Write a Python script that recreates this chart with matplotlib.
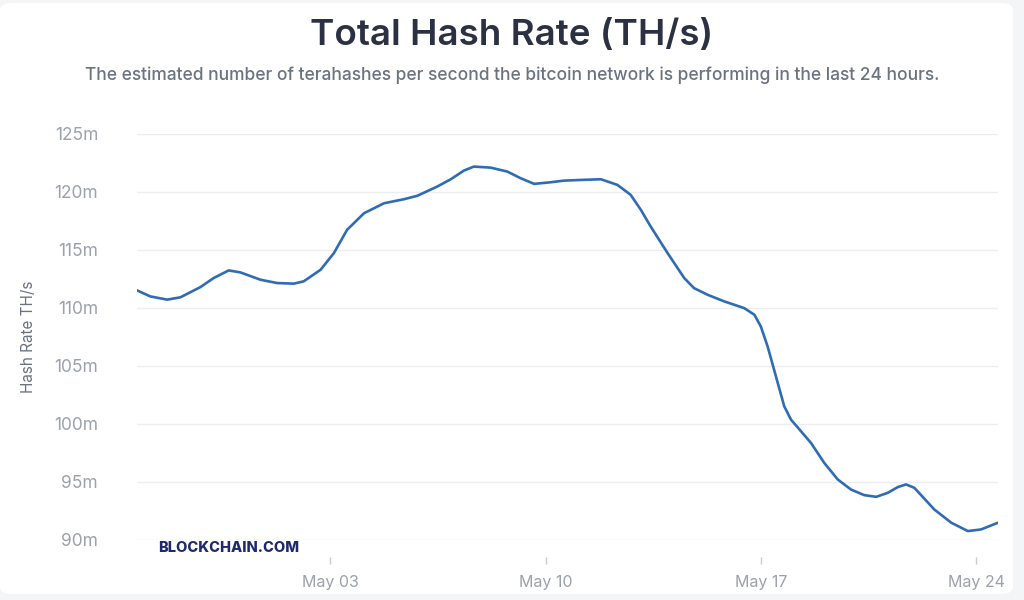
import numpy as np
import pandas as pd
import matplotlib
matplotlib.use("Agg")
import matplotlib.pyplot as plt
import matplotlib.dates as mdates
from matplotlib.patches import FancyBboxPatch
from matplotlib.ticker import FuncFormatter

# time as day of May 2021 (1.0 = May 1 00:00, values <= 0 are in April)
day_of_may = [
    -3.29, -2.86, -2.31, -1.88, -1.23, -0.80, -0.31, 0.07, 0.72, 1.27,
    1.81, 2.13, 2.68, 3.11, 3.54, 4.09, 4.74, 5.39, 5.82, 6.47,
    6.91, 7.34, 7.66, 8.21, 8.75, 9.18, 9.62, 10.16, 10.59, 11.14,
    11.79, 12.33, 12.76, 13.09, 13.41, 13.96, 14.50, 14.82, 15.26, 15.80,
    16.45, 16.78, 16.99, 17.21, 17.54, 17.75, 17.97, 18.62, 19.05, 19.49,
    19.92, 20.35, 20.74, 21.12, 21.44, 21.71, 21.98, 22.63, 23.18, 23.72,
    24.15, 24.70,
]
# hash rate (millions of TH/s)
hash_rate = [
    111.52, 111.0, 110.72, 110.92, 111.8, 112.58, 113.24, 113.07, 112.44, 112.15,
    112.1, 112.3, 113.3, 114.73, 116.74, 118.17, 119.03, 119.38, 119.67, 120.47,
    121.1, 121.85, 122.19, 122.1, 121.76, 121.19, 120.7, 120.84, 120.98, 121.04,
    121.1, 120.61, 119.75, 118.46, 117.02, 114.73, 112.58, 111.71, 111.14, 110.57,
    109.99, 109.42, 108.41, 106.69, 103.54, 101.53, 100.38, 98.37, 96.65, 95.22,
    94.35, 93.87, 93.72, 94.07, 94.56, 94.79, 94.5, 92.63, 91.49, 90.77,
    90.91, 91.49,
]
y_ticks = [90, 95, 100, 105, 110, 115, 120, 125]
x_ticks = ["2021-05-03", "2021-05-10", "2021-05-17", "2021-05-24"]

plt.rcParams['font.family'] = ['Inter', 'DejaVu Sans']

fig = plt.figure(figsize=(10.24, 6), dpi=100, facecolor="#f4f5f7")
card = FancyBboxPatch((0, 6 / 600), 1013 / 1024, 591 / 600,
                      boxstyle="round,pad=0,rounding_size=0.012",
                      transform=fig.transFigure, facecolor="white",
                      edgecolor="none", zorder=-10)
fig.patches.append(card)

ax = fig.add_axes([137 / 1024, 60 / 600, 861 / 1024, 406 / 600])
ax.set_zorder(5)
ax.set_facecolor("none")

t = pd.Timestamp("2021-05-01") + pd.to_timedelta(np.array(day_of_may) - 1, unit="D")
ax.plot(t, hash_rate, color="#2f6cb3", lw=1.9, solid_capstyle="round",
        solid_joinstyle="round")

ax.set_ylim(90, 125)
ax.set_xlim(t[0], t[-1])
ax.set_yticks(y_ticks)
ax.yaxis.set_major_formatter(FuncFormatter(lambda v, p: f"{v:.0f}m"))
ax.set_xticks(pd.to_datetime(x_ticks))
ax.xaxis.set_major_formatter(mdates.DateFormatter("%b %d"))

ax.grid(axis="y", color="#eceef1", lw=1)
ax.set_axisbelow(True)
for s in ["top", "right", "left"]:
    ax.spines[s].set_visible(False)
ax.spines["bottom"].set_position(("outward", 12.5))
ax.spines["bottom"].set_color("none")

ax.tick_params(axis="y", length=0, pad=28, labelsize=12.5, labelcolor="#9ca1ab")
ax.tick_params(axis="x", length=5, width=1, color="#c9ccd2", pad=8,
               labelsize=11.5, labelcolor="#9ca1ab")

ax.set_ylabel("Hash Rate TH/s", fontsize=11, color="#6b7280", labelpad=13)

fig.text(0.5, 1 - 35 / 600, "Total Hash Rate (TH/s)", ha="center", va="center",
         fontsize=26.5, fontweight="semibold", color="#2b3142")
fig.text(0.5, 1 - 75 / 600,
         "The estimated number of terahashes per second the bitcoin network is performing in the last 24 hours.",
         ha="center", va="center", fontsize=12.5, fontweight="medium", color="#6b7280")
fig.text(158 / 1024, 1 - 548 / 600, "BLOCKCHAIN.COM", ha="left", va="center",
         fontsize=10.5, fontweight="heavy", color="#1f2a6e")

fig.savefig("out.png", dpi=100, facecolor=fig.get_facecolor())
